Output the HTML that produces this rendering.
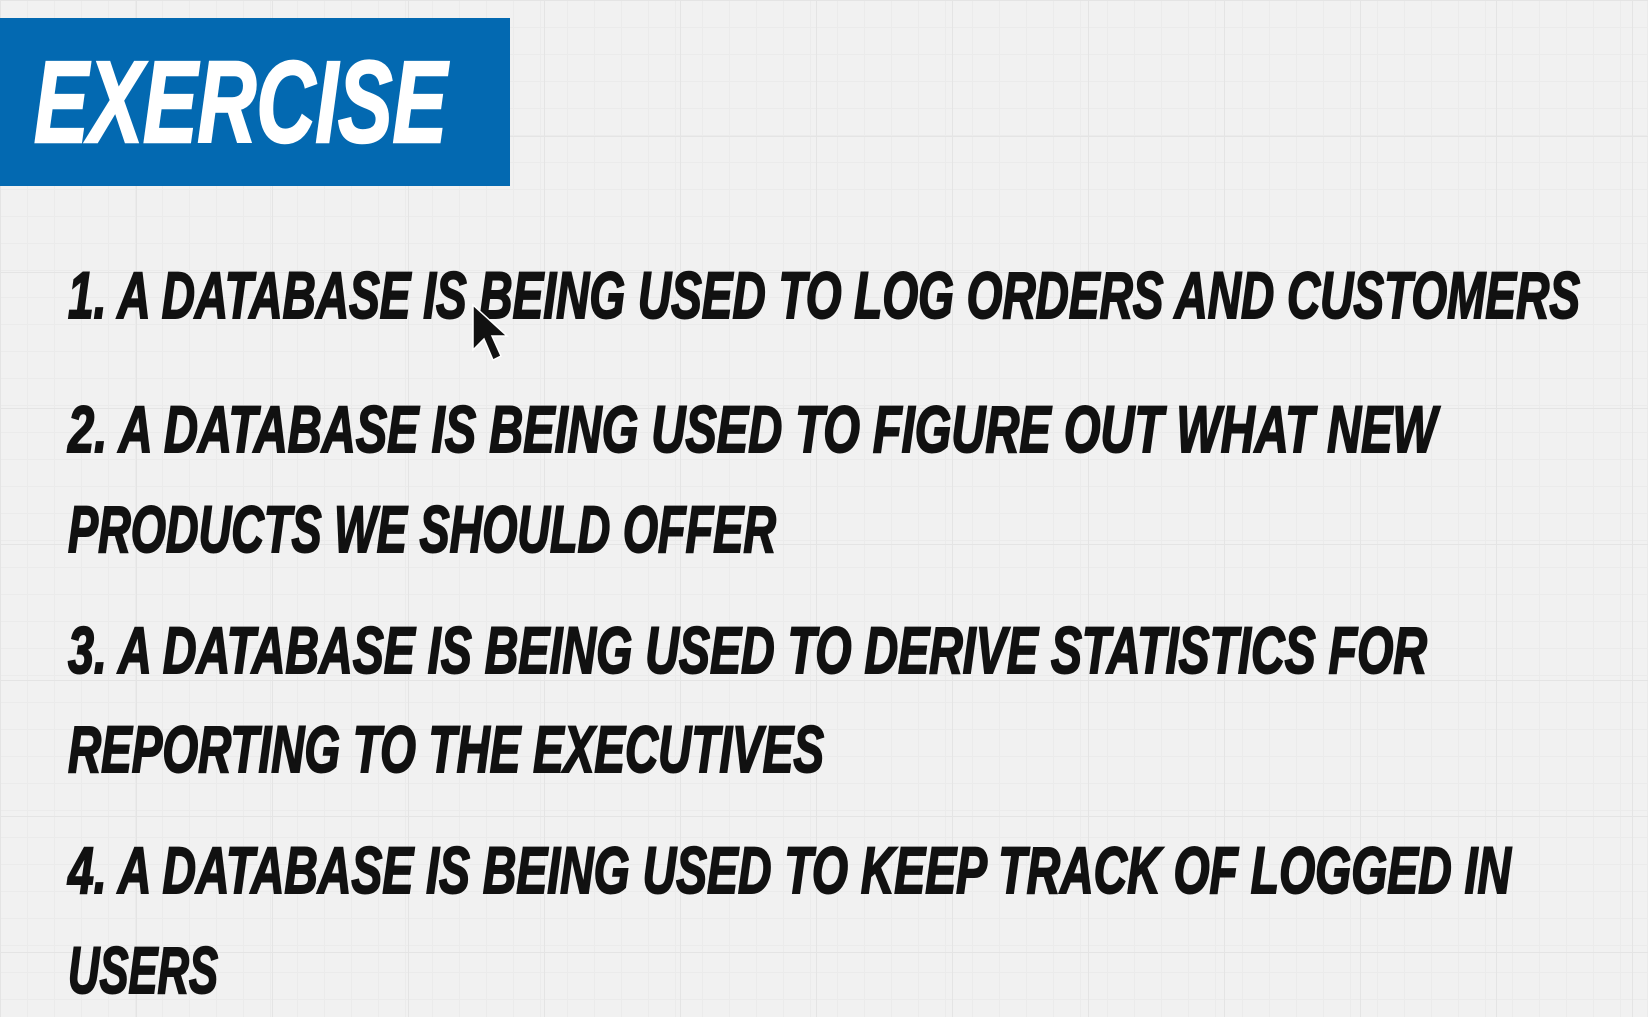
<!DOCTYPE html>
<html><head><meta charset="utf-8"><style>
html,body{margin:0;padding:0;}
body{width:1648px;height:1017px;overflow:hidden;background-color:#f1f1f1;
background-image:linear-gradient(#e4e4e4 1px,transparent 1px),linear-gradient(90deg,#e4e4e4 1px,transparent 1px),linear-gradient(#ebebeb 1px,transparent 1px),linear-gradient(90deg,#ebebeb 1px,transparent 1px);
background-size:136px 136px,136px 136px,27px 27px,27px 27px;}
svg{position:absolute;left:0;top:0;}
text{font-family:"Liberation Sans",sans-serif;font-weight:bold;font-style:italic;}
</style></head><body>
<svg width="1648" height="1017">
<rect x="0" y="18" width="510" height="168" fill="#0369b1"/>
<text x="34" y="142" font-size="116" fill="#fff" stroke="#fff" stroke-width="2.5" textLength="413" lengthAdjust="spacingAndGlyphs">EXERCISE</text>
<g fill="#111" stroke="#111" stroke-width="2" font-size="66">
<text x="68" y="318" textLength="1512" lengthAdjust="spacingAndGlyphs">1. A DATABASE IS BEING USED TO LOG ORDERS AND CUSTOMERS</text>
<text x="68" y="452" textLength="1369" lengthAdjust="spacingAndGlyphs">2. A DATABASE IS BEING USED TO FIGURE OUT WHAT NEW</text>
<text x="68" y="552" textLength="708" lengthAdjust="spacingAndGlyphs">PRODUCTS WE SHOULD OFFER</text>
<text x="68" y="673" textLength="1359" lengthAdjust="spacingAndGlyphs">3. A DATABASE IS BEING USED TO DERIVE STATISTICS FOR</text>
<text x="68" y="772" textLength="756" lengthAdjust="spacingAndGlyphs">REPORTING TO THE EXECUTIVES</text>
<text x="68" y="893" textLength="1443" lengthAdjust="spacingAndGlyphs">4. A DATABASE IS BEING USED TO KEEP TRACK OF LOGGED IN</text>
<text x="68" y="993" textLength="150" lengthAdjust="spacingAndGlyphs">USERS</text>
</g>
<polygon points="473,305 473,350 484,339 493,360 501,356 492,336 507,336" fill="#111" stroke="#fff" stroke-width="1.5"/>
</svg>
</body></html>
